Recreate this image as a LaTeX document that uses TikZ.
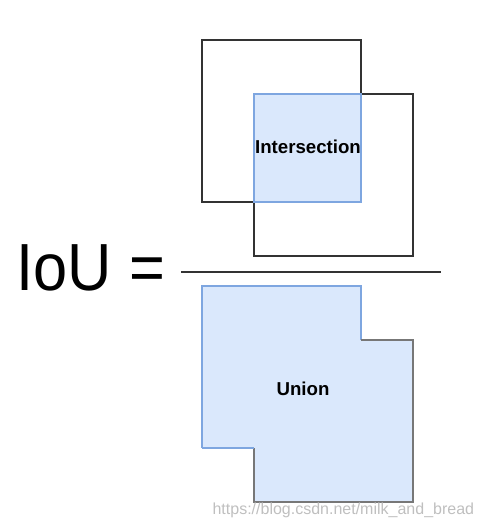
\documentclass[tikz,border=0pt]{standalone}
\usepackage{fontspec}
\setmainfont{Liberation Sans}
\usepackage{tikz}
\usetikzlibrary{positioning}
\definecolor{boxfill}{HTML}{DAE8FC}
\definecolor{boxline}{HTML}{7EA6E0}
\definecolor{edgegray}{HTML}{777777}

\begin{document}
\begin{tikzpicture}[x=0.75pt,y=-0.75pt,line width=0.9pt]
\useasboundingbox (0,0) rectangle (481,526);
% Cajas
\draw[black!80] (202,40) rectangle (361,202);
\draw[black!80] (254,94) rectangle (413,256);
\draw[boxline,fill=boxfill] (254,94) rectangle (361,202);
\node[font=\bfseries\fontsize{14}{16}\selectfont] (inter) at (308,147) {Intersection};
% Fraccion
\node[font=\fontsize{50}{56}\selectfont,anchor=east] (iou) at (170,268) {\scalebox{0.92}[1]{IoU =}};
\draw[black!80] (181,272) -- (441,272);
% Union
\fill[boxfill] (202,286) -- (361,286) -- (361,340) -- (413,340) -- (413,502)
  -- (254,502) -- (254,448) -- (202,448) -- cycle;
\draw[boxline] (202,448) -- (202,286) -- (361,286) -- (361,340);
\draw[edgegray] (361,340) -- (413,340) -- (413,502) -- (254,502) -- (254,448);
\draw[boxline] (254,448) -- (202,448);
\node[font=\bfseries\fontsize{14}{16}\selectfont] (union) at (303,389) {Union};
% Marca de agua
\node[font=\fontsize{12}{14}\selectfont,text=black!25,anchor=base west,inner sep=0pt] (mark) at (212,514) {https://blog.csdn.net/milk\_and\_bread};
\end{tikzpicture}
\end{document}
